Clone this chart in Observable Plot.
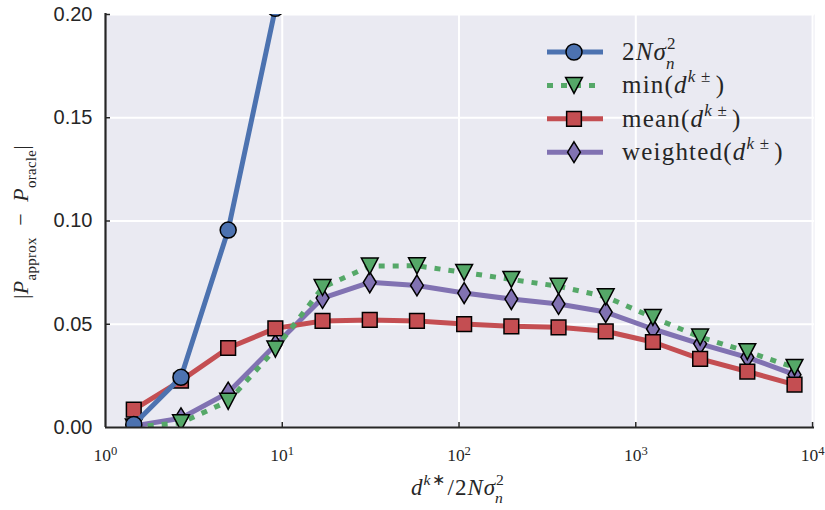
<!DOCTYPE html>
<html>
<head>
<meta charset="utf-8">
<script src="https://cdn.jsdelivr.net/npm/d3@7"></script>
<script src="https://cdn.jsdelivr.net/npm/@observablehq/plot@0.6"></script>
<style>
  html, body { margin: 0; padding: 0; background: #ffffff; }
  #chart { width: 825px; height: 510px; position: relative; }
  g[aria-label="y-axis tick label"] { font-family: "Liberation Sans", Arial, sans-serif; font-size: 20px; fill: #262626; }
  g[aria-label="x-axis tick label"] { font-family: "Liberation Serif", "Times New Roman", serif; font-size: 17.5px; fill: #262626; }
</style>
</head>
<body>
<div id="chart"></div>
<script>
// ---- data ----
const X = [1.445, 2.673, 4.943, 9.14, 16.9, 31.26, 57.8, 106.9, 197.7, 365.6, 676, 1250, 2312, 4276, 7907];
const Y_2Nsigma  = [0.0015, 0.0243, 0.0956, 0.203];
const Y_min      = [0.0003, 0.0023, 0.0127, 0.038, 0.0678, 0.0782, 0.0783, 0.0751, 0.0717, 0.0684, 0.0633, 0.0533, 0.0438, 0.0367, 0.0291];
const Y_mean     = [0.0087, 0.0227, 0.0385, 0.048, 0.0516, 0.0521, 0.0516, 0.0501, 0.0490, 0.0485, 0.0466, 0.0414, 0.0332, 0.0271, 0.0208];
const Y_weighted = [0.0008, 0.0045, 0.0169, 0.040, 0.0627, 0.0703, 0.0688, 0.0651, 0.0622, 0.0598, 0.0559, 0.0477, 0.0405, 0.0340, 0.0256];
const SERIES_KEYS = ["2Nsigma", "min", "mean", "weighted"];
const X_TICKS = [1, 10, 100, 1000, 10000];
const Y_TICKS = [0, 0.05, 0.10, 0.15, 0.20];

// ---- styles ----
const COLORS = {"2Nsigma": "#4C72B0", "min": "#55A868", "mean": "#C44E52", "weighted": "#8172B2"};
const VALUES = {"2Nsigma": Y_2Nsigma, "min": Y_min, "mean": Y_mean, "weighted": Y_weighted};
const DASH = {"min": "6,8"};
const SYMBOLS = {
  "2Nsigma": {draw(c, s) { const r = Math.sqrt(s / Math.PI); c.moveTo(r, 0); c.arc(0, 0, r, 0, 2 * Math.PI); c.closePath(); }},
  "min": {draw(c, s) { const h = Math.sqrt(s / Math.PI); c.moveTo(-h * 1.05, -h); c.lineTo(h * 1.05, -h); c.lineTo(0, h); c.closePath(); }},
  "mean": {draw(c, s) { const h = Math.sqrt(s / Math.PI) * 0.92; c.moveTo(-h, -h); c.lineTo(h, -h); c.lineTo(h, h); c.lineTo(-h, h); c.closePath(); }},
  "weighted": {draw(c, s) { const r = Math.sqrt(s / Math.PI); const hh = r * 1.3, hw = r * 0.8; c.moveTo(0, -hh); c.lineTo(hw, 0); c.lineTo(0, hh); c.lineTo(-hw, 0); c.closePath(); }}
};
const R = 8;
const DRAW_ORDER = ["weighted", "mean", "min", "2Nsigma"];

const rows = key => VALUES[key].map((v, i) => ({x: X[i], y: v}));

const seriesMarks = DRAW_ORDER.flatMap(key => [
  Plot.line(rows(key), {x: "x", y: "y", stroke: COLORS[key], strokeWidth: 5, strokeDasharray: DASH[key], strokeLinecap: "butt", clip: true}),
  Plot.dot(rows(key), {x: "x", y: "y", r: R, symbol: SYMBOLS[key], fill: COLORS[key], stroke: "black", strokeWidth: 1.5, clip: true})
]);

const svg = Plot.plot({
  width: 825, height: 510,
  marginLeft: 105, marginRight: 11, marginTop: 14, marginBottom: 83,
  x: {type: "log", domain: [1, 10257]},
  y: {domain: [0, 0.2]},
  style: {background: "white", overflow: "visible"},
  marks: [
    Plot.frame({fill: "#EAEAF2", stroke: null}),
    Plot.gridX({ticks: X_TICKS.slice(1), stroke: "white", strokeOpacity: 1, strokeWidth: 2}),
    Plot.gridY({ticks: Y_TICKS.slice(1), stroke: "white", strokeOpacity: 1, strokeWidth: 2}),
    ...seriesMarks,
    Plot.tickX(X_TICKS.slice(1), {x: d => d, insetTop: 408, stroke: "#262626", strokeWidth: 1.5}),
    Plot.tickY(Y_TICKS.slice(1), {y: d => d, insetRight: 704, stroke: "#262626", strokeWidth: 1.5}),
    Plot.ruleX([X_TICKS[0]], {x: d => d, stroke: "#262626", strokeWidth: 2.2, insetTop: -1}),
    Plot.ruleY([Y_TICKS[0]], {y: d => d, stroke: "#262626", strokeWidth: 2.2}),
    Plot.axisX({ticks: X_TICKS, tickSize: 0, tickPadding: 21, label: null, tickFormat: d => String(Math.round(Math.log10(d)))}),
    Plot.axisY({ticks: Y_TICKS, tickSize: 0, tickPadding: 13, label: null, tickFormat: d3.format(".2f")})
  ]
});
document.getElementById("chart").append(svg);

const S = d3.select(svg);
// x tick labels as 10^k
S.selectAll('g[aria-label="x-axis tick label"] text').each(function() {
  const k = this.textContent;
  this.textContent = "";
  const t = d3.select(this);
  t.append("tspan").text("10");
  t.append("tspan").attr("dy", "-0.45em").attr("font-size", "0.72em").text(k);
});

// rich text helper
function rich(parent, parts, fs, ls) {
  const text = parent.append("text").attr("font-family", '"Liberation Serif", "Times New Roman", serif')
    .attr("font-size", fs).attr("fill", "#262626").attr("text-anchor", "start")
    .style("letter-spacing", (ls || 0) + "px");
  let cur = 0, prev = null;
  for (const p of parts) {
    const lvl = p.lvl || 0;
    const target = lvl === 1 ? fs * 0.45 : lvl === -1 ? -fs * 0.35 : 0;
    const ts = text.append("tspan").text(p.t);
    if (target !== cur) { ts.attr("dy", cur - target); cur = target; }
    if (p.i) ts.attr("font-style", "italic");
    if (lvl) ts.attr("font-size", fs * 0.68);
    if (p.back && prev) ts.attr("dx", -prev.node().getComputedTextLength() - (ls || 0));
    else if (p.dx) ts.attr("dx", p.dx);
    prev = ts;
  }
  return text;
}

// y label
const yl = S.append("g").attr("transform", "translate(28,222) rotate(-90)");
rich(yl, [{t: "|"}, {t: "P", i: true}, {t: "approx", lvl: -1}, {t: "\u2002\u2212\u2002"}, {t: "P", i: true}, {t: "oracle", lvl: -1}, {t: "|"}], 22, 0.3)
  .attr("text-anchor", "middle");

// x label
const xl = S.append("g").attr("transform", "translate(458,495)");
rich(xl, [{t: "d", i: true}, {t: "k", lvl: 1, i: true}, {t: "\u2217", lvl: 1}, {t: "/2", dx: 2}, {t: "N\u03C3", i: true}, {t: "2", lvl: 1}, {t: "n", lvl: -1, i: true, back: true}], 23, 1)
  .attr("text-anchor", "middle");

// legend
const LEGEND_PARTS = {
  "2Nsigma": [{t: "2"}, {t: "N\u03C3", i: true}, {t: "2", lvl: 1}, {t: "n", lvl: -1, i: true, back: true}],
  "min": [{t: "min("}, {t: "d", i: true}, {t: "k", lvl: 1, i: true}, {t: "\u2009\u00B1", lvl: 1}, {t: ")", dx: 4}],
  "mean": [{t: "mean("}, {t: "d", i: true}, {t: "k", lvl: 1, i: true}, {t: "\u2009\u00B1", lvl: 1}, {t: ")", dx: 4}],
  "weighted": [{t: "weighted("}, {t: "d", i: true}, {t: "k", lvl: 1, i: true}, {t: "\u2009\u00B1", lvl: 1}, {t: ")", dx: 4}]
};
const leg = S.append("g").attr("transform", "translate(547,52)");
SERIES_KEYS.forEach((key, i) => {
  const g = leg.append("g").attr("transform", `translate(0,${i * 33.4})`);
  g.append("line").attr("x1", 0).attr("x2", 56).attr("stroke", COLORS[key]).attr("stroke-width", 5)
    .attr("stroke-dasharray", DASH[key] || null).attr("stroke-linecap", "butt");
  const p = d3.path();
  SYMBOLS[key].draw(p, Math.PI * R * R);
  g.append("path").attr("transform", "translate(27,0)").attr("d", p.toString())
    .attr("fill", COLORS[key]).attr("stroke", "black").attr("stroke-width", 1.5);
  const tg = g.append("g").attr("transform", "translate(75,8)");
  rich(tg, LEGEND_PARTS[key], 25, 1.2);
});
</script>
</body>
</html>
